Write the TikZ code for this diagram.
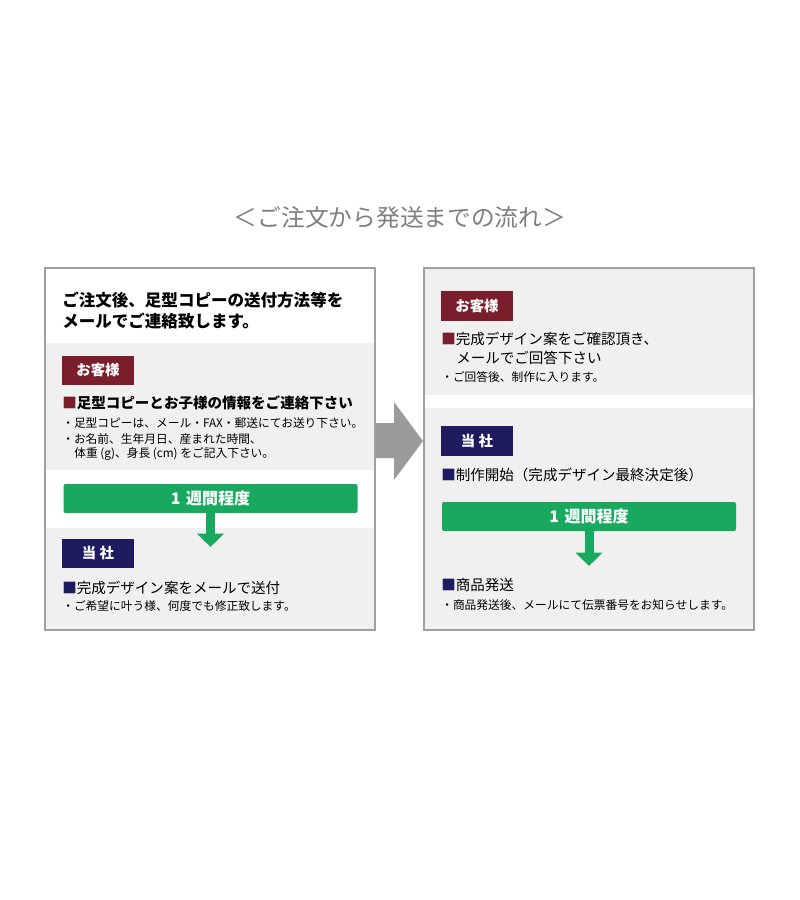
\documentclass[tikz,border=0pt]{standalone}
\usepackage{fontspec}
\setmainfont{Noto Sans CJK JP}
\usetikzlibrary{arrows.meta}
\definecolor{custred}{HTML}{7A1E2B}
\definecolor{ournavy}{HTML}{1E1B5F}
\definecolor{weekgreen}{HTML}{18A95F}
\definecolor{panelgrey}{HTML}{F0F0F0}
\definecolor{framegrey}{HTML}{A0A0A0}
\definecolor{arrowgrey}{HTML}{9B9B9B}
\definecolor{titlegrey}{HTML}{7F7F7F}
\tikzset{
  frame/.style={draw=framegrey,line width=0.9pt},
  tagbox/.style={minimum width=54pt,minimum height=22pt,inner sep=0pt,text=white,font=\fontsize{10.8pt}{12pt}\selectfont\bfseries},
  leadtext/.style={anchor=west,inner sep=0pt,font=\fontsize{12.4pt}{15pt}\selectfont\bfseries},
  headtext/.style={anchor=west,inner sep=0pt,font=\fontsize{10.9pt}{13pt}\selectfont},
  notetext/.style={anchor=west,inner sep=0pt,font=\fontsize{8.8pt}{10pt}\selectfont},
  weekbar/.style={fill=weekgreen,rounded corners=1.5pt,minimum width=220.5pt,minimum height=21.75pt,inner sep=0pt,text=white,font=\fontsize{12pt}{14pt}\selectfont\bfseries},
  weekarrow/.style={draw=weekgreen,line width=6.75pt,-{Triangle[width=19.5pt,length=10pt]}}
}
\begin{document}
\begin{tikzpicture}[x=0.75pt,y=-0.75pt]
  \useasboundingbox[fill=white] (0,0) rectangle (800,900);
  \node[inner sep=0pt,text=titlegrey,font=\fontsize{17.8pt}{20pt}\selectfont] (title) at (400,218) {＜ご注文から発送までの流れ＞};
  % left panel
  \fill[panelgrey] (45,343) rectangle (375,470);
  \fill[panelgrey] (45,528) rectangle (375,630);
  \draw[frame] (45,268) rectangle (375,630);
  \node[leadtext] (lead1) at (62,300) {ご注文後、足型コピーの送付方法等を};
  \node[leadtext] (lead2) at (62,321) {メールでご連絡致します。};
  \node[tagbox,fill=custred] (cust1) at (98,370.5) {お客様};
  \node[headtext,font=\fontsize{10.9pt}{13pt}\selectfont\bfseries] (head1) at (62,403) {{\color{custred}■}足型コピーとお子様の情報をご連絡下さい};
  \node[notetext] (note1) at (62,423) {・足型コピーは、メール・FAX・郵送にてお送り下さい。};
  \node[notetext] (note2) at (62,439) {・お名前、生年月日、産まれた時間、};
  \node[notetext] (note3) at (74,454) {体重 (g)、身長 (cm) をご記入下さい。};
  \node[weekbar] (bar1) at (210.5,498.5) {1\hspace{0.35em}週間程度};
  \coordinate (tip1) at (210.5,547);
  \draw[weekarrow] (bar1.south) -- (tip1);
  \node[tagbox,fill=ournavy] (firm1) at (98,553.5) {当 社};
  \node[headtext] (head2) at (62,588) {{\color{ournavy}■}完成デザイン案をメールで送付};
  \node[notetext] (note4) at (62,606) {・ご希望に叶う様、何度でも修正致します。};
  % grey arrow
  \fill[arrowgrey] (376,423) -- (394,423) -- (394,402) -- (423,441) -- (394,480) -- (394,458) -- (376,458) -- cycle;
  % right panel
  \fill[panelgrey] (424,268) rectangle (754,395);
  \fill[panelgrey] (424,408) rectangle (754,630);
  \draw[frame] (424,268) rectangle (754,630);
  \node[tagbox,fill=custred] (cust2) at (477,306) {お客様};
  \node[headtext] (head3) at (441,339) {{\color{custred}■}完成デザイン案をご確認頂き、};
  \node[headtext] (head4) at (456,358) {メールでご回答下さい};
  \node[notetext] (note5) at (441,377) {・ご回答後、制作に入ります。};
  \node[tagbox,fill=ournavy] (firm2) at (477,441) {当 社};
  \node[headtext] (head5) at (441,475) {{\color{ournavy}■}制作開始（完成デザイン最終決定後）};
  \node[weekbar] (bar2) at (589,516.5) {1\hspace{0.35em}週間程度};
  \coordinate (tip2) at (589,566);
  \draw[weekarrow] (bar2.south) -- (tip2);
  \node[headtext] (head6) at (441,585) {{\color{ournavy}■}商品発送};
  \node[notetext] (note6) at (441,605) {・商品発送後、メールにて伝票番号をお知らせします。};
\end{tikzpicture}
\end{document}
